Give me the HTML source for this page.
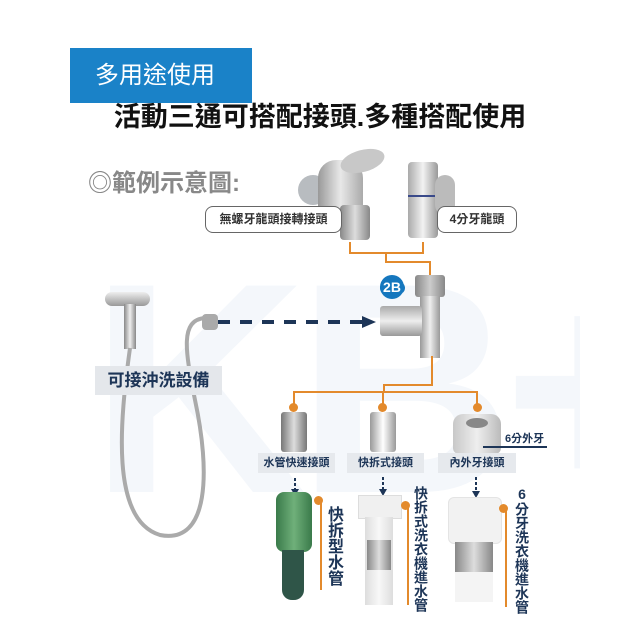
<!DOCTYPE html>
<html><head><meta charset="utf-8"><style>
body{margin:0;width:640px;height:640px;background:#fff;position:relative;overflow:hidden;font-family:"Liberation Sans","Noto Sans CJK TC",sans-serif}
.a{position:absolute}
.lbl{position:absolute;background:#e6e9ed;color:#1d3557;font-weight:bold;font-size:11px;text-align:center;line-height:20px}
.v{position:absolute;color:#1d3557;font-weight:bold;writing-mode:vertical-rl;text-orientation:upright;letter-spacing:0}
.o{position:absolute;background:#e38a2c}
.dot{position:absolute;width:9px;height:9px;border-radius:50%;background:#e38a2c}
</style></head><body>
<div class="a" style="left:90px;top:258px;width:490px;height:252px;overflow:hidden">
<div class="a" style="left:0;top:-20px;color:#f4f7fb;font-size:300px;font-weight:bold;line-height:300px;letter-spacing:-10px;white-space:nowrap">KB+</div>
</div>

<div class="a" style="left:70px;top:48px;width:182px;height:55px;background:#1a82c8"></div>
<div class="a" style="left:95px;top:48px;line-height:55px;color:#fff;font-size:24px">多用途使用</div>
<div class="a" style="left:0;width:640px;top:99px;text-align:center;font-size:27px;font-weight:bold;color:#111;line-height:36px">活動三通可搭配接頭.多種搭配使用</div>
<div class="a" style="left:88px;top:163px;font-size:24px;font-weight:bold;color:#888">◎範例示意圖:</div>

<!-- faucets -->
<div class="a" style="left:298px;top:175px;width:30px;height:30px;border-radius:50%;background:#b8bcc0"></div>
<div class="a" style="left:318px;top:160px;width:45px;height:60px;border-radius:18px 18px 6px 6px;background:linear-gradient(90deg,#999,#e8e8e8,#aaa)"></div>
<div class="a" style="left:340px;top:150px;width:45px;height:22px;border-radius:50%;background:#c8c8c8;transform:rotate(-15deg)"></div>
<div class="a" style="left:340px;top:205px;width:30px;height:35px;background:linear-gradient(90deg,#888,#ddd,#888);border-radius:4px"></div>
<div class="a" style="left:408px;top:162px;width:30px;height:76px;background:linear-gradient(90deg,#aaa,#f2f2f2,#999);border-radius:4px"></div>
<div class="a" style="left:408px;top:195px;width:30px;height:2px;background:#3a4a8a"></div>
<div class="a" style="left:435px;top:175px;width:20px;height:40px;background:#bbb;border-radius:10px"></div>

<div class="a" style="left:205px;top:206px;width:135px;height:25px;border:1.5px solid #666;border-radius:8px;background:#fff;font-size:12px;font-weight:bold;color:#333;text-align:center;line-height:25px">無螺牙龍頭接轉接頭</div>
<div class="a" style="left:437px;top:206px;width:78px;height:25px;border:1.5px solid #666;border-radius:8px;background:#fff;font-size:12px;font-weight:bold;color:#333;text-align:center;line-height:25px">4分牙龍頭</div>

<!-- orange top -->
<div class="o" style="left:349px;top:242px;width:2px;height:11px"></div>
<div class="o" style="left:422px;top:242px;width:2px;height:11px"></div>
<div class="o" style="left:349px;top:252px;width:75px;height:2px"></div>
<div class="o" style="left:385px;top:252px;width:2px;height:11px"></div>
<div class="o" style="left:385px;top:261px;width:46px;height:2px"></div>
<div class="o" style="left:429px;top:261px;width:2px;height:14px"></div>

<!-- tee -->
<div class="a" style="left:415px;top:275px;width:30px;height:22px;background:linear-gradient(90deg,#888,#ccc,#888);border-radius:3px"></div>
<div class="a" style="left:420px;top:296px;width:20px;height:62px;background:linear-gradient(90deg,#999,#eee,#999)"></div>
<div class="a" style="left:380px;top:306px;width:42px;height:30px;background:linear-gradient(180deg,#aaa,#eee,#999);border-radius:3px"></div>
<div class="a" style="left:380px;top:282px;width:25px;height:12px;background:#1577be;border-radius:12px"></div>
<div class="a" style="left:380px;top:275px;width:24px;height:24px;border-radius:50%;background:#1577be;color:#fff;font-weight:bold;font-size:14px;text-align:center;line-height:24px">2B</div>

<!-- shower -->
<div class="a" style="left:105px;top:292px;width:45px;height:14px;border-radius:7px;background:linear-gradient(#eee,#999)"></div>
<div class="a" style="left:124px;top:304px;width:12px;height:45px;background:linear-gradient(90deg,#888,#eee,#888)"></div>
<svg class="a" style="left:0;top:0" width="640" height="640">
<path d="M130 348 C120 420 110 520 160 535 C210 545 210 470 195 400 C185 350 180 320 205 318" fill="none" stroke="#aaa" stroke-width="4"/>
<line x1="218" y1="322" x2="365" y2="322" stroke="#1d3557" stroke-width="4" stroke-dasharray="12,10"/>
<polygon points="362,316 376,322 362,328" fill="#1d3557"/>
<g stroke="#1d3557" stroke-width="2" stroke-dasharray="3,2">
<line x1="295" y1="478" x2="295" y2="490"/><line x1="383" y1="477" x2="383" y2="490"/><line x1="476" y1="477" x2="476" y2="492"/></g>
<g fill="#1d3557"><polygon points="291,489 299,489 295,496"/><polygon points="379,489 387,489 383,496"/><polygon points="472,491 480,491 476,498"/></g>
</svg>
<div class="a" style="left:202px;top:314px;width:16px;height:16px;border-radius:4px;background:#aaa"></div>
<div class="lbl" style="left:95px;top:366px;width:127px;height:29px;line-height:29px;font-size:17px;background:#e4e7eb">可接沖洗設備</div>

<!-- orange below -->
<div class="o" style="left:431px;top:356px;width:2px;height:30px"></div>
<div class="o" style="left:383px;top:384px;width:50px;height:2px"></div>
<div class="o" style="left:383px;top:384px;width:2px;height:8px"></div>
<div class="o" style="left:293px;top:391px;width:185px;height:2px"></div>
<div class="o" style="left:293px;top:391px;width:2px;height:14px"></div>
<div class="o" style="left:382px;top:391px;width:2px;height:14px"></div>
<div class="o" style="left:476px;top:391px;width:2px;height:14px"></div>
<div class="dot" style="left:289px;top:403px"></div>
<div class="dot" style="left:378px;top:403px"></div>
<div class="dot" style="left:473px;top:403px"></div>

<!-- connectors -->
<div class="a" style="left:281px;top:412px;width:26px;height:40px;background:linear-gradient(90deg,#777,#ddd,#777);border-radius:3px"></div>
<div class="a" style="left:370px;top:412px;width:26px;height:40px;background:linear-gradient(90deg,#999,#fff,#999);border-radius:3px"></div>
<div class="a" style="left:453px;top:414px;width:48px;height:40px;background:linear-gradient(90deg,#c8c8c8,#eee,#bbb);border-radius:10px 10px 6px 6px"></div>
<div class="a" style="left:466px;top:418px;width:22px;height:10px;background:#888;border-radius:50%"></div>
<div class="a" style="left:505px;top:430px;font-size:11px;font-weight:bold;color:#1d3557">6分外牙</div>
<div class="a" style="left:483px;top:446px;width:64px;height:2px;background:#1d3557"></div>

<div class="lbl" style="left:258px;top:453px;width:77px">水管快速接頭</div>
<div class="lbl" style="left:347px;top:453px;width:77px">快拆式接頭</div>
<div class="lbl" style="left:438px;top:453px;width:78px">內外牙接頭</div>

<!-- hoses -->
<div class="a" style="left:276px;top:492px;width:36px;height:60px;background:linear-gradient(90deg,#3a7a4a,#6fb07a,#3a7a4a);border-radius:8px"></div>
<div class="a" style="left:282px;top:550px;width:22px;height:50px;background:#2f5548;border-radius:0 0 10px 10px"></div>
<div class="a" style="left:358px;top:495px;width:42px;height:22px;background:#f0f0f0;border:1px solid #ddd"></div>
<div class="a" style="left:365px;top:517px;width:28px;height:88px;background:linear-gradient(90deg,#ddd,#f8f8f8,#ddd)"></div>
<div class="a" style="left:367px;top:540px;width:24px;height:30px;background:linear-gradient(90deg,#888,#ddd,#888)"></div>
<div class="a" style="left:448px;top:497px;width:52px;height:45px;background:#f2f2f2;border-radius:6px;border:1px solid #e4e4e4"></div>
<div class="a" style="left:455px;top:542px;width:38px;height:30px;background:linear-gradient(90deg,#888,#ddd,#888)"></div>
<div class="a" style="left:455px;top:572px;width:38px;height:30px;background:#f4f4f4"></div>

<div class="o" style="left:320px;top:500px;width:2px;height:90px"></div>
<div class="dot" style="left:314px;top:496px"></div>
<div class="o" style="left:407px;top:505px;width:2px;height:100px"></div>
<div class="dot" style="left:401px;top:501px"></div>
<div class="o" style="left:505px;top:508px;width:2px;height:99px"></div>
<div class="dot" style="left:499px;top:504px"></div>

<div class="v" style="left:324px;top:506px;font-size:16px;line-height:18px">快拆型水管</div>
<div class="v" style="left:413px;top:486px;font-size:14px;line-height:15px">快拆式洗衣機進水管</div>
<div class="v" style="left:514px;top:486px;font-size:14px;line-height:15px">6分牙洗衣機進水管</div>
</body></html>
